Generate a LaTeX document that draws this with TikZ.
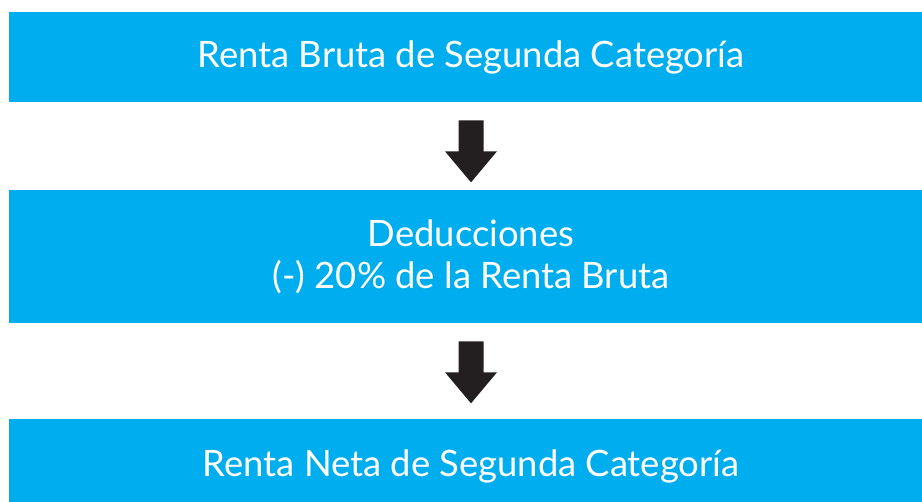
\documentclass[tikz,border=0pt]{standalone}
\usepackage{fontspec}
\setmainfont{Lato}
\usetikzlibrary{calc}
\definecolor{celeste}{HTML}{00AEEF}
\definecolor{negro}{HTML}{231F20}
\tikzset{caja/.style = {fill = celeste, text = white, align = center, minimum width = 18.48cm,
  font = \fontsize{20.7}{23.8}\selectfont}}
\newcommand{\flecha}[1]{\fill[negro] ($(#1.south)+(-12.5,18)$) -- ($(#1.south)+(12.5,18)$) -- ($(#1.south)+(12.5,49)$)
  -- ($(#1.south)+(26,49)$) -- ($(#1.south)+(0,80)$) -- ($(#1.south)+(-26,49)$) -- ($(#1.south)+(-12.5,49)$) -- cycle;}

\begin{document}
\begin{tikzpicture}[x = 0.02cm, y = -0.02cm]
\useasboundingbox (0,0) rectangle (922,502);
\clip (0,0) rectangle (922,502);
\node[caja, minimum height = 1.8cm] (rbruta) at (471,57) {Renta Bruta de Segunda Categoría};
\node[caja, minimum height = 2.66cm] (deduc) at (471,256.5) {Deducciones\\(-) 20\% de la Renta Bruta};
\node[caja, minimum height = 1.88cm] (rneta) at (471,466) {Renta Neta de Segunda Categoría};
\flecha{rbruta}
\flecha{deduc}
\end{tikzpicture}
\end{document}
